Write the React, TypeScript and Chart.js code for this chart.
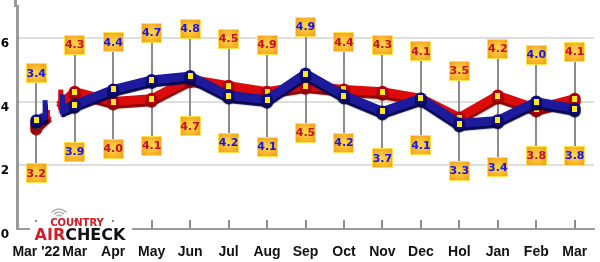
import React, { useEffect, useRef } from "react";
import { Chart, registerables } from "chart.js";
Chart.register(...registerables);

const categories = ["Mar '22", "Mar", "Apr", "May", "Jun", "Jul", "Aug", "Sep", "Oct", "Nov", "Dec", "Hol", "Jan", "Feb", "Mar"];
const blueLine = [3.41, 3.9, 4.38, 4.68, 4.8, 4.19, 4.06, 4.88, 4.19, 3.69, 4.1, 3.31, 3.41, 4.0, 3.78];
const redLine = [3.22, 4.31, 4.0, 4.09, 4.7, 4.5, 4.31, 4.5, 4.38, 4.31, 4.1, 3.5, 4.19, 3.78, 4.09];
const blueLabels = ["3.4", "3.9", "4.4", "4.7", "4.8", "4.2", "4.1", "4.9", "4.2", "3.7", "4.1", "3.3", "3.4", "4.0", "3.8"];
const redLabels = ["3.2", "4.3", "4.0", "4.1", "4.7", "4.5", "4.9", "4.5", "4.4", "4.3", "4.1", "3.5", "4.2", "3.8", "4.1"];
const yMin = 0;
const yMax = 7;
const yStep = 2;

const BLUE = "#1d1b9c";
const BLUE_DARK = "#07074e";
const BLUE_PT = "#0e0c78";
const RED = "#dc0b0b";
const RED_DARK = "#8a0000";
const RED_PT = "#b0000c";
const BLUE_TXT = "#1414f0";
const RED_TXT = "#c4102a";
const OFF = 47;

function drawBox(ctx: CanvasRenderingContext2D, cx: number, cy: number, text: string, color: string) {
  const w = 21, h = 20;
  const x0 = Math.round(cx - w / 2), y0 = Math.round(cy - h / 2);
  const g = ctx.createRadialGradient(cx, cy, 1, cx, cy, 14);
  g.addColorStop(0, "#ffd447");
  g.addColorStop(1, "#f29a12");
  ctx.fillStyle = g;
  ctx.fillRect(x0, y0, w, h);
  ctx.strokeStyle = "#ffe34d";
  ctx.lineWidth = 1;
  ctx.strokeRect(x0 + 0.5, y0 + 0.5, w - 1, h - 1);
  ctx.font = 'bold 11px "DejaVu Sans", sans-serif';
  ctx.textAlign = "center";
  ctx.textBaseline = "middle";
  ctx.fillStyle = color;
  ctx.fillText(text, cx, cy + 0.5);
}

const deco = {
  id: "deco",
  beforeDatasetsDraw(chart: any) {
    const { ctx, chartArea, scales } = chart;
    const x = scales.x, y = scales.y;
    ctx.save();
    ctx.strokeStyle = "#9a9a9a";
    ctx.lineWidth = 3;
    ctx.beginPath();
    ctx.moveTo(chartArea.left - 1.5, 0);
    ctx.lineTo(chartArea.left - 1.5, chartArea.top + 1);
    ctx.stroke();
    ctx.strokeStyle = "#8c8c8c";
    ctx.lineWidth = 2;
    categories.forEach((_, i) => {
      const px = Math.round(x.getPixelForValue(i));
      ctx.beginPath();
      ctx.moveTo(px, chartArea.bottom - 9);
      ctx.lineTo(px, chartArea.bottom);
      ctx.stroke();
      const yb = y.getPixelForValue(blueLine[i]);
      const yr = y.getPixelForValue(redLine[i]);
      const top = Math.min(yb, yr) - OFF;
      const bot = Math.max(yb, yr) + OFF;
      ctx.beginPath();
      ctx.moveTo(px, top);
      ctx.lineTo(px, bot);
      ctx.stroke();
    });
    ctx.restore();
  },
  beforeDatasetDraw(chart: any, args: any) {
    const ctx = chart.ctx;
    const isBlue = args.index === 0;
    ctx.save();
    ctx.shadowColor = isBlue ? BLUE_DARK : RED_DARK;
    ctx.shadowOffsetY = 3;
    ctx.shadowBlur = 1;
    const meta = chart.getDatasetMeta(args.index);
    const p0 = meta.data[0], p1 = meta.data[1];
    const t1 = isBlue ? 0.27 : 0.33;
    const t2 = isBlue ? 0.64 : 0.6;
    const col = isBlue ? BLUE : RED;
    const ax = p0.x + (p1.x - p0.x) * t1, ay = p0.y + (p1.y - p0.y) * t1;
    const bx = p0.x + (p1.x - p0.x) * t2, by = p0.y + (p1.y - p0.y) * t2;
    ctx.strokeStyle = col;
    ctx.lineWidth = 9;
    ctx.lineCap = "butt";
    ctx.beginPath();
    ctx.moveTo(p0.x, p0.y);
    ctx.lineTo(ax, ay);
    ctx.stroke();
    ctx.beginPath();
    ctx.moveTo(bx, by);
    ctx.lineTo(p1.x, p1.y);
    ctx.stroke();
    ctx.fillStyle = col;
    if (isBlue) {
      ctx.fillRect(ax - 4, ay - 16, 5, 20);
    } else {
      ctx.fillRect(ax - 4, ay - 5, 5, 9);
    }
    ctx.fillRect(bx - 1, by - 16, 5, 20);
  },
  afterDatasetDraw(chart: any, args: any) {
    const ctx = chart.ctx;
    ctx.restore();
    const meta = chart.getDatasetMeta(args.index);
    ctx.save();
    ctx.fillStyle = "#ffe817";
    meta.data.forEach((pt: any) => {
      ctx.fillRect(Math.round(pt.x - 2.5), Math.round(pt.y - 3), 5, 6);
    });
    ctx.restore();
  },
  afterDatasetsDraw(chart: any) {
    const { ctx, scales } = chart;
    const x = scales.x, y = scales.y;
    ctx.save();
    categories.forEach((_, i) => {
      const px = x.getPixelForValue(i);
      const yb = y.getPixelForValue(blueLine[i]);
      const yr = y.getPixelForValue(redLine[i]);
      const redTop = yr <= yb;
      const top = Math.min(yb, yr) - OFF;
      const bot = Math.max(yb, yr) + OFF;
      if (redTop) {
        drawBox(ctx, px, top, redLabels[i], RED_TXT);
        drawBox(ctx, px, bot, blueLabels[i], BLUE_TXT);
      } else {
        drawBox(ctx, px, top, blueLabels[i], BLUE_TXT);
        drawBox(ctx, px, bot, redLabels[i], RED_TXT);
      }
    });
    ctx.restore();
  },
  afterDraw(chart: any) {
    const { ctx, chartArea } = chart;
    const b = chartArea.bottom;
    ctx.save();
    ctx.fillStyle = "#ffffff";
    ctx.fillRect(30, b - 7, 102, 14);
    ctx.strokeStyle = "#a0a0a0";
    ctx.lineWidth = 1.2;
    [3, 6, 9].forEach((r) => {
      ctx.beginPath();
      ctx.arc(59, b - 11, r, Math.PI * 1.2, Math.PI * 1.8);
      ctx.stroke();
    });
    ctx.textAlign = "center";
    ctx.textBaseline = "alphabetic";
    ctx.fillStyle = "#cf1b26";
    ctx.font = 'bold 10px "DejaVu Sans", sans-serif';
    ctx.fillText("COUNTRY", 77, b - 3);
    ctx.font = 'bold 16px "DejaVu Sans", sans-serif';
    ctx.textAlign = "left";
    const wAir = ctx.measureText("AIR").width;
    const wCheck = ctx.measureText("CHECK").width;
    const startX = 80 - (wAir + wCheck) / 2;
    ctx.fillStyle = "#d0202a";
    ctx.fillText("AIR", startX, b + 11);
    ctx.fillStyle = "#111111";
    ctx.fillText("CHECK", startX + wAir, b + 11);
    ctx.restore();
  },
};

export default function App() {
  const ref = useRef<HTMLCanvasElement | null>(null);
  useEffect(() => {
    if (!ref.current) return;
    const chart = new Chart(ref.current, {
      type: "line",
      data: {
        labels: categories,
        datasets: [
          {
            label: "Blue",
            data: blueLine,
            borderColor: BLUE,
            borderWidth: 9,
            pointRadius: 6,
            pointBackgroundColor: BLUE_PT,
            pointBorderWidth: 0,
            tension: 0,
            segment: { borderColor: (c: any) => (c.p0DataIndex === 0 ? "rgba(0,0,0,0)" : BLUE) },
          },
          {
            label: "Red",
            data: redLine,
            borderColor: RED,
            borderWidth: 9,
            pointRadius: 6,
            pointBackgroundColor: RED_PT,
            pointBorderWidth: 0,
            tension: 0,
            segment: { borderColor: (c: any) => (c.p0DataIndex === 0 ? "rgba(0,0,0,0)" : RED) },
          },
        ],
      },
      options: {
        responsive: false,
        animation: false,
        layout: { padding: { top: 0, right: 3, bottom: 0, left: 0 } },
        plugins: { legend: { display: false }, tooltip: { enabled: false } },
        scales: {
          x: {
            type: "category",
            offset: true,
            grid: { display: false, drawTicks: false },
            border: { display: true, color: "#9a9a9a", width: 2 },
            ticks: {
              autoSkip: false,
              maxRotation: 0,
              padding: 15,
              color: "#111111",
              font: { family: "'Liberation Sans Narrow', 'Liberation Sans', Arial, sans-serif", weight: "bold", size: 14 },
            },
            afterFit: (s: any) => { s.height = 33; s.paddingLeft = 0; s.paddingRight = 0; },
          },
          y: {
            min: yMin,
            max: yMax,
            grid: { color: "#dedede", lineWidth: 2, drawTicks: false },
            border: { display: true, color: "#9a9a9a", width: 3 },
            ticks: {
              stepSize: yStep,
              includeBounds: false,
              labelOffset: 6,
              padding: 8,
              color: "#000000",
              font: { family: "'DejaVu Sans', sans-serif", weight: "bold", size: 12 },
              callback: (v: any) => (Number(v) % yStep === 0 ? String(v) : ""),
            },
            afterFit: (s: any) => { s.width = 17; s.paddingTop = 0; s.paddingBottom = 0; },
          },
        },
      },
      plugins: [deco],
    });
    return () => chart.destroy();
  }, []);
  return (
    <div style={{ position: "fixed", left: 0, top: 0, width: 600, height: 262, background: "#fff" }}>
      <canvas ref={ref} width={600} height={262} style={{ width: 600, height: 262, display: "block" }} />
    </div>
  );
}
